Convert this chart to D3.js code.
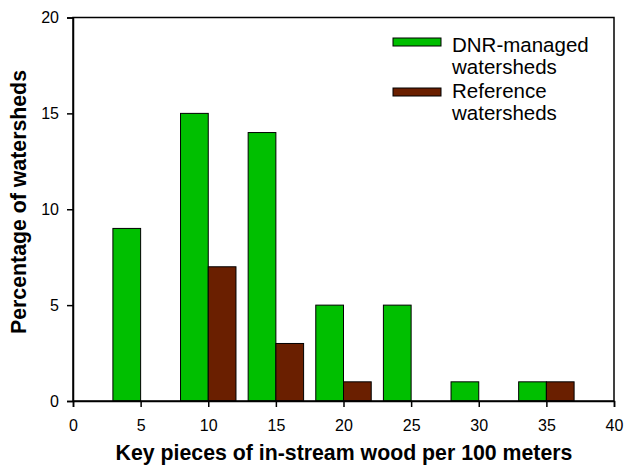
<!DOCTYPE html>
<html>
<head>
<meta charset="utf-8">
<script src="https://cdn.jsdelivr.net/npm/d3@7"></script>
<style>
  body { margin: 0; background: #fff; }
  text { font-family: "Liberation Sans", Arial, sans-serif; }
</style>
</head>
<body>
<div id="chart"></div>
<script>
// bin positions (right edge of green bar / left edge of brown bar)
var bins = [5, 10, 15, 20, 25, 30, 35];
var dnrValues = [9, 15, 14, 5, 5, 1, 1];
var refValues = [0, 7, 3, 1, 0, 0, 1];
var xTicks = [0, 5, 10, 15, 20, 25, 30, 35, 40];
var yTicks = [0, 5, 10, 15, 20];
var seriesNames = [["DNR-managed", "watersheds"], ["Reference", "watersheds"]];
var colors = ["#00bf00", "#6a1f00"];

var margin = {top: 17.5, right: 14, bottom: 64, left: 73},
    width = 628,
    height = 465;

var svg = d3.select("#chart").append("svg")
  .attr("width", width).attr("height", height);

var x = d3.scaleLinear().domain([0, 40]).range([margin.left, width - margin.right]);
var y = d3.scaleLinear().domain([0, 20]).range([height - margin.bottom, margin.top]);
var barW = 2.05;

// bars
var data = bins.map(function(b, i) { return {b: b, dnr: dnrValues[i], ref: refValues[i]}; });

svg.selectAll("rect.dnr")
  .data(data.filter(d => d.dnr > 0))
  .enter().append("rect")
  .attr("class", "dnr")
  .attr("x", d => x(d.b - barW))
  .attr("y", d => y(d.dnr))
  .attr("width", d => x(d.b) - x(d.b - barW))
  .attr("height", d => y(0) - y(d.dnr))
  .attr("fill", colors[0])
  .attr("stroke", "#000")
  .attr("stroke-width", 1);

svg.selectAll("rect.ref")
  .data(data.filter(d => d.ref > 0))
  .enter().append("rect")
  .attr("class", "ref")
  .attr("x", d => x(d.b))
  .attr("y", d => y(d.ref))
  .attr("width", d => x(d.b + barW) - x(d.b))
  .attr("height", d => y(0) - y(d.ref))
  .attr("fill", colors[1])
  .attr("stroke", "#000")
  .attr("stroke-width", 1);

// frame
svg.append("rect")
  .attr("x", x(0)).attr("y", y(20))
  .attr("width", x(40) - x(0)).attr("height", y(0) - y(20))
  .attr("fill", "none").attr("stroke", "#000").attr("stroke-width", 1.5);

// axes
var xAxis = svg.append("g")
  .attr("transform", `translate(0,${y(0)})`)
  .call(d3.axisBottom(x).tickValues(xTicks).tickSize(6).tickPadding(13).tickFormat(d3.format("d")));
var yAxis = svg.append("g")
  .attr("transform", `translate(${x(0)},0)`)
  .call(d3.axisLeft(y).tickValues(yTicks).tickSize(6).tickPadding(8).tickFormat(d3.format("d")));

[xAxis, yAxis].forEach(function(g) {
  g.select(".domain").attr("stroke-width", 1.5);
  g.selectAll(".tick line").attr("stroke-width", 1.5);
  g.selectAll(".tick text")
    .style("font-family", "'Liberation Sans', Arial, sans-serif")
    .style("font-size", "16px")
    .attr("fill", "#000");
});

// axis titles
svg.append("text")
  .attr("x", 344).attr("y", 459.5)
  .attr("text-anchor", "middle")
  .attr("font-weight", "bold")
  .style("font-size", "21.3px")
  .text("Key pieces of in-stream wood per 100 meters");

svg.append("text")
  .attr("transform", "translate(26,202) rotate(-90)")
  .attr("text-anchor", "middle")
  .attr("font-weight", "bold")
  .style("font-size", "21.3px")
  .text("Percentage of watersheds");

// legend
var legend = svg.append("g");
seriesNames.forEach(function(name, i) {
  legend.append("rect")
    .attr("x", 393).attr("y", 38 + i * 50)
    .attr("width", 48).attr("height", 8)
    .attr("fill", colors[i]).attr("stroke", "#000").attr("stroke-width", 1);
  name.forEach(function(line, j) {
    legend.append("text")
      .attr("x", 452).attr("y", 51.7 + i * 46 + j * 22)
      .style("font-size", "20.5px")
      .attr("fill", "#000")
      .text(line);
  });
});
</script>
</body>
</html>
